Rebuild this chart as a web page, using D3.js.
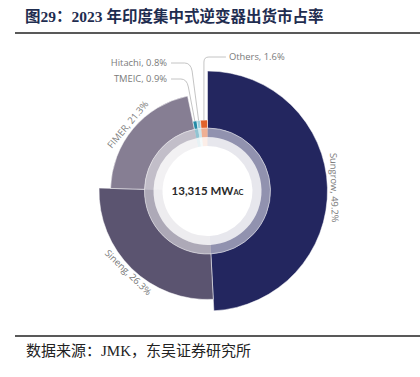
<!DOCTYPE html>
<html>
<head>
<meta charset="utf-8">
<script src="https://cdn.jsdelivr.net/npm/d3@7"></script>
<style>
  body { margin: 0; background: #fff; }
  svg { display: block; }
</style>
</head>
<body>
<div id="chart"></div>
<script>
// Chart data
const categories = ["Sungrow", "Sineng", "FIMER", "TMEIC", "Hitachi", "Others"];
const shares = [49.2, 26.3, 21.3, 0.9, 0.8, 1.6];
const colors = ["#23265f", "#5b5470", "#867e93", "#2389a5", "#9acddb", "#e0622a"];
const totalValue = "13,315";
const totalUnit = "MW";
const totalSub = "AC";

const titleText = "图29：2023 年印度集中式逆变器出货市占率";
const sourceText = "数据来源：JMK，东吴证券研究所";

const W = 420, H = 377;
const cx = 207.5, cy = 191;

const svg = d3.select("#chart")
  .append("svg")
  .attr("width", W)
  .attr("height", H);

// Title and rules
svg.append("text")
  .attr("x", 25)
  .attr("y", 22)
  .attr("font-family", "'Liberation Serif', 'Noto Sans CJK SC', serif")
  .attr("font-weight", "bold")
  .attr("font-size", "15.5px")
  .attr("fill", "#1f2d50")
  .text(titleText);

svg.append("line")
  .attr("x1", 15).attr("x2", W)
  .attr("y1", 33).attr("y2", 33)
  .attr("stroke", "#222")
  .attr("stroke-width", 1.6);

svg.append("line")
  .attr("x1", 15).attr("x2", W)
  .attr("y1", 336).attr("y2", 336)
  .attr("stroke", "#222")
  .attr("stroke-width", 1.6);

svg.append("text")
  .attr("x", 26)
  .attr("y", 356)
  .attr("font-family", "'Liberation Serif', 'Noto Sans CJK SC', serif")
  .attr("font-size", "15px")
  .attr("fill", "#222")
  .text(sourceText);

// Data table
const data = categories.map((c, i) => ({ name: c, share: shares[i], color: colors[i] }));
const ranked = shares.slice().sort((a, b) => b - a);
data.forEach(d => { d.rank = ranked.indexOf(d.share); });

// Outer radius by rank (top three stepped, the rest thin)
const rankRadius = d3.scaleLinear().domain([0, 2]).range([120, 97]);
const outerR = d => d.rank < 3 ? rankRadius(d.rank) : 71;

const pie = d3.pie()
  .sort(null)
  .value(d => d.share)
  .startAngle(0)
  .endAngle(2 * Math.PI);

const arcs = pie(data);

const g = svg.append("g")
  .attr("transform", `translate(${cx},${cy})`);

// inner pale ring
g.selectAll(".ring1")
  .data(arcs)
  .enter()
  .append("path")
  .attr("d", d => d3.arc().innerRadius(45).outerRadius(54)(d))
  .attr("fill", d => d.data.color)
  .attr("fill-opacity", 0.11);

// middle ring
g.selectAll(".ring2")
  .data(arcs)
  .enter()
  .append("path")
  .attr("d", d => d3.arc().innerRadius(54).outerRadius(63)(d))
  .attr("fill", d => d.data.color)
  .attr("fill-opacity", 0.5);

// main slices
g.selectAll(".slice")
  .data(arcs)
  .enter()
  .append("path")
  .attr("class", "slice")
  .attr("d", d => d3.arc().innerRadius(63).outerRadius(outerR(d.data))(d))
  .attr("fill", d => d.data.color)
  .attr("stroke", "#fff")
  .attr("stroke-width", 0.5);

// Centre label
const centre = g.append("text")
  .attr("text-anchor", "middle")
  .attr("y", 4)
  .attr("font-family", "Lato, 'Open Sans', sans-serif")
  .attr("font-weight", "bold")
  .attr("font-size", "11.5px")
  .attr("fill", "#2a2a2a");
centre.append("tspan").text(totalValue + " " + totalUnit);
centre.append("tspan").attr("font-size", "7.5px").text(totalSub);

const labelFont = "'Open Sans', Lato, sans-serif";
const labelText = d => `${d.data.name}, ${d.data.share}%`;
const labelColor = "#7a7a7a";

// Rotated labels for the big slices
const big = arcs.filter(d => d.data.rank < 3);
g.selectAll(".blabel")
  .data(big)
  .enter()
  .append("text")
  .attr("transform", d => {
    const a = (d.startAngle + d.endAngle) / 2;
    const r = outerR(d.data) + 6;
    const x = r * Math.sin(a), y = -r * Math.cos(a);
    let deg = a * 180 / Math.PI;
    if (deg > 90 && deg < 270) deg -= 180;
    return `translate(${x},${y}) rotate(${deg})`;
  })
  .attr("text-anchor", "middle")
  .attr("dominant-baseline", "middle")
  .attr("font-family", labelFont)
  .attr("font-size", "9.4px")
  .attr("fill", labelColor)
  .text(labelText);

// Leader-line labels for the small slices
const small = arcs.filter(d => d.data.rank >= 3);
const labelY = { TMEIC: 79, Hitachi: 63, Others: 57 };
const labelSide = { TMEIC: -1, Hitachi: -1, Others: 1 };

small.forEach(d => {
  const a = (d.startAngle + d.endAngle) / 2;
  const r = outerR(d.data);
  const sx = cx + r * Math.sin(a), sy = cy - r * Math.cos(a);
  const ly = labelY[d.data.name];
  const side = labelSide[d.data.name];
  let path, tx;
  if (side > 0) {
    const vx = sx;
    path = `M${sx},${sy} L${vx},${ly + 5} Q${vx},${ly} ${vx + 5},${ly} L${vx + 22},${ly}`;
    tx = vx + 25;
  } else {
    const vx = sx - 8;
    path = `M${sx},${sy} L${vx + 1.5},${ly + 8} Q${vx},${ly} ${vx - 6},${ly} L${171},${ly}`;
    tx = 167;
  }
  svg.append("path")
    .attr("d", path)
    .attr("fill", "none")
    .attr("stroke", "#b5b5b5")
    .attr("stroke-width", 0.8);
  svg.append("text")
    .attr("x", tx)
    .attr("y", ly)
    .attr("text-anchor", side > 0 ? "start" : "end")
    .attr("dominant-baseline", "middle")
    .attr("font-family", labelFont)
    .attr("font-size", "9.4px")
    .attr("fill", labelColor)
    .text(labelText(d));
});
</script>
</body>
</html>
